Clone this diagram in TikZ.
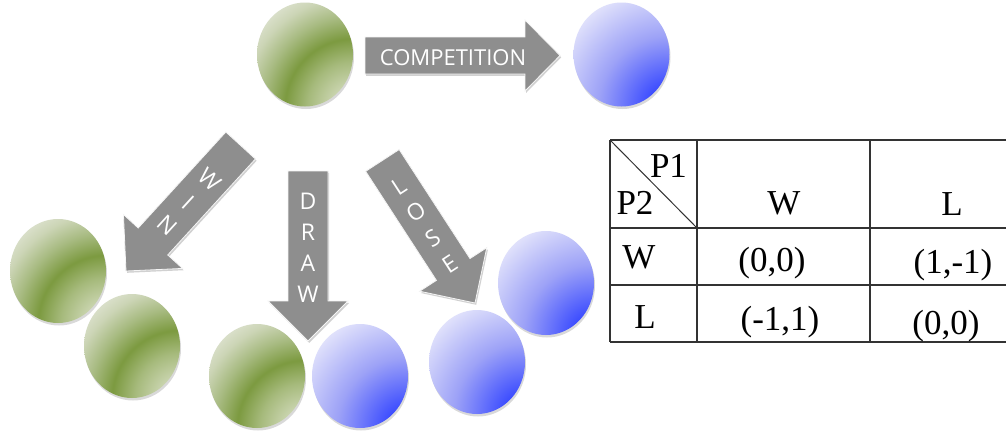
\documentclass[tikz,border=0pt]{standalone}
\usepackage{fontspec}
\setmainfont{Liberation Serif}
\newfontfamily\arrowfont{Open Sans}
\usetikzlibrary{shapes.geometric,shadows}

\definecolor{gA}{HTML}{D2DBB9}
\definecolor{gB}{HTML}{C9D4AE}
\definecolor{gC}{HTML}{A6BA7C}
\definecolor{gD}{HTML}{7C9A40}
\definecolor{gC2}{HTML}{A8BB82}
\definecolor{gE}{HTML}{CCD5B6}
\definecolor{gF}{HTML}{DDE2CF}
\definecolor{gG}{HTML}{E3E7D9}
\definecolor{bA}{HTML}{2233FF}
\definecolor{bB}{HTML}{3A4BFF}
\definecolor{bC}{HTML}{9DA2F7}
\definecolor{bD}{HTML}{E0E1FB}
\definecolor{bE}{HTML}{E8E8FC}
\definecolor{arrowgray}{HTML}{8E8E8E}
\definecolor{tableline}{HTML}{333333}

\pgfdeclareradialshading{greenball}{\pgfpoint{0bp}{0bp}}{color(0bp)=(gA); color(3.5bp)=(gB); color(7.5bp)=(gC); color(11.3bp)=(gD); color(15bp)=(gC2); color(18.3bp)=(gE); color(20.8bp)=(gF); color(25bp)=(gG)}
\pgfdeclareradialshading{blueball}{\pgfpoint{0bp}{0bp}}{color(0bp)=(bA); color(3.3bp)=(bB); color(11.8bp)=(bC); color(20.2bp)=(bD); color(25bp)=(bE)}

\tikzset{
  ball/.style={ellipse, minimum width=96pt, minimum height=104pt, inner sep=0pt,
    drop shadow={fill=black, opacity=0.15, shadow xshift=1pt, shadow yshift=-2.5pt}},
  gball/.style={ball, path picture={\shade[shading=greenball] (path picture bounding box.south east) circle (150pt);}},
  bball/.style={ball, path picture={\shade[shading=blueball] (path picture bounding box.south east) circle (150pt);}},
  bigarrow/.style={fill=arrowgray, draw=white!92!gray, line width=0.8pt,
    drop shadow={fill=black, opacity=0.18, shadow xshift=1.2pt, shadow yshift=-1.8pt}},
  arrowtext/.style={text=white, inner sep=0pt, align=center,
    font=\arrowfont\fontsize{23pt}{31pt}\selectfont},
  cell/.style={anchor=base, inner sep=0pt, font=\fontsize{35pt}{40pt}\selectfont},
  grid/.style={draw=tableline, line width=1.4pt}
}

\begin{document}
\begin{tikzpicture}[x=1pt, y=-1pt]
\useasboundingbox (0,0) rectangle (1006,431);
\fill[white] (0,0) rectangle (1006,431);

% balls
\node[gball] (gtop) at (305,54.5) {};
\node[bball] (btop) at (621.5,54.5) {};
\node[gball] (g1) at (58,271) {};
\node[gball] (g2) at (132,346) {};
\node[gball] (g3) at (257,376) {};
\node[bball] (b1) at (360,376) {};
\node[bball] (b3) at (546,283) {};
\node[bball] (b2) at (477,362) {};

% competition arrow
\path[bigarrow] (365,37) -- (525,37) -- (525,20) -- (560,55.5) -- (525,91) -- (525,74) -- (365,74) -- cycle;
\node[arrowtext, font=\arrowfont\fontsize{22pt}{26pt}\selectfont] (comp) at (453,57.5) {COMPETITION};

% WIN arrow
\begin{scope}[shift={(126,271)}, rotate=-42.4, transform shape]
\path[bigarrow] (0,0) -- (40,-40) -- (20,-40) -- (20,-170) -- (-20,-170) -- (-20,-40) -- (-40,-40) -- cycle;
\node[arrowtext] (win) at (0,-93) {W\\I\\N};
\end{scope}

% DRAW arrow
\begin{scope}[shift={(308,341)}]
\path[bigarrow] (0,0) -- (40,-40) -- (20,-40) -- (20,-170) -- (-20,-170) -- (-20,-40) -- (-40,-40) -- cycle;
\node[arrowtext] (draw) at (0,-93) {D\\R\\A\\W};
\end{scope}

% LOSE arrow
\begin{scope}[shift={(475,303)}, rotate=33, transform shape]
\path[bigarrow] (0,0) -- (40,-40) -- (20,-40) -- (20,-170) -- (-20,-170) -- (-20,-40) -- (-40,-40) -- cycle;
\node[arrowtext] (lose) at (0,-93) {L\\O\\S\\E};
\end{scope}

% table
\coordinate (t1) at (610,140);
\coordinate (t2) at (697,228);
\draw[grid] (610,140) -- (1010,140);
\draw[grid] (610,228) -- (1010,228);
\draw[grid] (610,285) -- (1010,285);
\draw[grid] (610,342) -- (1010,342);
\draw[grid] (610,140) -- (610,342);
\draw[grid] (697,140) -- (697,342);
\draw[grid] (870,140) -- (870,342);
\draw[draw=tableline, line width=1pt] (t1) -- (t2);

\node[cell] (p1) at (668.5,177) {P1};
\node[cell] (p2) at (635,214) {P2};
\node[cell] (hw) at (784,214) {W};
\node[cell] (hl) at (952,215) {L};
\node[cell] (rw) at (639,268) {W};
\node[cell] (ww) at (772,271) {(0,0)};
\node[cell] (wl) at (953,273) {(1,-1)};
\node[cell] (rl) at (645,328) {L};
\node[cell] (lw) at (780,330) {(-1,1)};
\node[cell] (ll) at (946,334) {(0,0)};
\end{tikzpicture}
\end{document}
